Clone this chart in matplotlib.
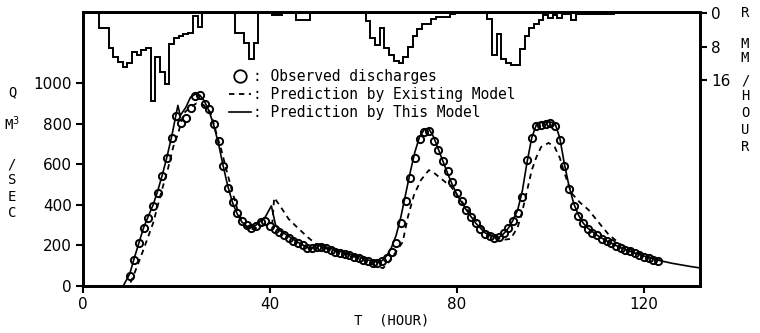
import numpy as np
import matplotlib.pyplot as plt
from matplotlib.lines import Line2D

# observed discharges (hourly), m3/s
obs_t = np.arange(10, 124)
obs_q = [50, 130, 210, 285, 335, 395, 460, 540, 630, 730,
         840, 805, 830, 875, 935, 940, 895, 870, 800, 715,
         590, 485, 415, 360, 320, 300, 285, 295, 315, 320,
         295, 280, 265, 250, 235, 220, 210, 200, 188, 185,
         190, 192, 185, 175, 168, 162, 157, 152, 145, 138,
         130, 122, 115, 113, 122, 140, 168, 212, 310, 420,
         530, 630, 725, 758, 762, 715, 668, 615, 565, 510,
         460, 418, 375, 338, 308, 282, 258, 247, 238, 240,
         262, 288, 322, 358, 440, 620, 730, 790, 795, 800,
         802, 790, 720, 590, 480, 395, 345, 310, 283, 262,
         250, 232, 222, 210, 198, 188, 178, 170, 163, 155,
         145, 138, 130, 122]

# prediction by this model
new_t = [0, 8.6, 10, 11, 12, 13, 14, 15, 16, 17, 18, 19, 20.3, 20.8, 22, 23, 24, 25,
         26, 27, 28, 29, 30, 31, 32, 33, 34, 35, 36, 37, 38, 39, 40.3, 41.2, 42, 44,
         46, 48, 48.8, 49.5, 51, 53, 55, 57, 59, 61, 63, 64, 65, 66, 67, 68, 69, 70,
         71, 72, 73, 74, 75, 76, 77, 78, 79, 80, 82, 84, 86, 88, 89, 90, 91, 92, 93,
         94, 95, 96, 97, 98, 99, 100, 101, 102, 103, 104, 105, 106, 107, 108, 110,
         112, 114, 116, 118, 120, 122, 124, 126, 128, 130, 132]
new_q = [0, 0, 60, 140, 215, 290, 345, 400, 470, 550, 640, 740, 890, 840, 880, 930, 945, 940,
         910, 860, 790, 700, 590, 490, 410, 355, 315, 295, 290, 300, 320, 340, 395, 300, 275, 245,
         215, 190, 180, 200, 200, 185, 170, 158, 145, 128, 118, 125, 150, 190, 250, 340, 450, 560,
         660, 735, 770, 775, 735, 675, 615, 555, 500, 450, 375, 310, 262, 240, 240, 258, 285, 325, 375,
         470, 610, 730, 795, 805, 808, 808, 800, 730, 600, 490, 405, 350, 310, 285, 250,
         222, 200, 180, 163, 148, 135, 122, 112, 104, 96, 89]

# prediction by existing model
old_t = [0, 9.8, 10.7, 12.9, 15, 16.7, 18.2, 19.3, 20.4, 21.5, 23, 24.3, 25.8, 27.3, 28.5,
         29.6, 30.7, 32, 33, 34, 35, 36, 37, 38, 39, 40.5, 40.9, 42, 44, 46, 48.3, 50, 52,
         55, 58, 61, 63, 64.2, 65.5, 67, 68.4, 69.5, 70.8, 72.3, 74, 75.1, 77, 78.8, 80, 82,
         84, 86, 88, 90, 91.5, 93, 94, 95, 96, 97, 98, 99.6, 100.9, 102, 103, 104.5, 106.2,
         108.2, 110, 112.4, 115, 118, 121, 124]
old_q = [0, 0, 44, 177, 310, 458, 580, 685, 755, 850, 882, 900, 892, 855, 755,
         670, 570, 460, 380, 320, 290, 280, 285, 295, 305, 310, 435, 400, 330, 285, 236, 205, 185,
         165, 145, 118, 95, 88, 120, 170, 217, 340, 448, 522, 571, 557, 522, 488, 450, 385,
         325, 275, 240, 228, 232, 290, 370, 470, 570, 635, 685, 705, 685, 632, 557, 458, 414,
         374, 322, 255, 205, 170, 143, 122]

# hourly rainfall intensity, mm/hour (hour k covers k+0.5 .. k+1.5)
rain = [0, 0, 0, 3.6, 3.6, 8.3, 10.4, 11.6, 12.8, 12.0,
        9.2, 10.0, 8.8, 8.4, 21, 10.4, 14, 17, 7.5, 6.0,
        5.6, 5.0, 4.8, 0.8, 3.3, 0, 0, 0, 0, 0,
        0, 0, 4.8, 4.8, 7.2, 11, 7.2, 0, 0, 0,
        0.5, 0.5, 0, 0, 0, 1.7, 1.7, 1.7, 0, 0,
        0, 0, 0, 0, 0, 0, 0, 0, 0, 0,
        2.0, 6.0, 7.6, 3.6, 8.3, 10, 11.5, 12, 10.4, 8,
        5.5, 3.7, 2.5, 2.5, 1.5, 0.9, 0.9, 0.9, 0.3, 0,
        0, 0, 0, 0, 0, 0, 1.5, 10, 5, 11,
        12, 12.4, 12.4, 8.5, 5.5, 3.6, 2.5, 1.7, 0.5, 1.2,
        0.5, 1.2, 0.3, 0.3, 1.7, 0.3, 0.2, 0.2, 0.2, 0.2,
        0.2, 0.2, 0.2, 0, 0, 0, 0, 0, 0, 0,
        0, 0, 0, 0, 0, 0, 0, 0, 0, 0, 0]
rain_edges = np.arange(len(rain) + 1) + 0.5

mono = 'DejaVu Sans Mono'

fig = plt.figure(figsize=(7.6, 3.33), dpi=100)
ax = fig.add_axes([83 / 760, 47 / 333, 617 / 760, 274 / 333])

ax.plot(old_t, old_q, color='black', lw=1.3, dashes=(3, 2.5))
ax.plot(new_t, new_q, color='black', lw=1.2)
ax.plot(obs_t, obs_q, 'o', color='black', mfc='none', ms=5.2, mew=1.4)

ax.set_xlim(0, 132)
ax.set_ylim(0, 1350)
ax.set_xticks([0, 40, 80, 120])
ax.set_yticks([0, 200, 400, 600, 800, 1000])
ax.tick_params(direction='out', length=5, width=1.5, labelsize=11, pad=3)
for s in ax.spines.values():
    s.set_linewidth(2)
ax.set_xlabel('T  (HOUR)', fontsize=10, family=mono, labelpad=1)

# rainfall on inverted right axis
ax2 = ax.twinx()
ax2.stairs(rain, rain_edges, color='black', lw=1.4, baseline=None)
ax2.set_ylim(65.2, -0.25)
ax2.set_yticks([0, 8, 16])
ax2.tick_params(direction='out', length=5, width=1.5, labelsize=11, pad=3)
for s in ax2.spines.values():
    s.set_linewidth(2)

handles = [
    Line2D([], [], ls='none', marker='o', color='black', mfc='none', ms=9, mew=1.3),
    Line2D([], [], color='black', lw=1.3, dashes=(3, 2.5)),
    Line2D([], [], color='black', lw=1.2),
]
labels = [': Observed discharges', ': Prediction by Existing Model', ': Prediction by This Model']
ax.legend(handles, labels, loc='upper left', bbox_to_anchor=(0.225, 0.817), frameon=False,
          prop={'family': mono, 'size': 10.5}, handlelength=1.5, handletextpad=0.15,
          labelspacing=0.18, borderpad=0, numpoints=1)

# stacked axis titles
left_letters = ['Q', 'M$^3$', '/', 'S', 'E', 'C']
left_y = [92, 124, 164, 180, 197, 213]
for ch, y in zip(left_letters, left_y):
    fig.text(12 / 760, 1 - y / 333, ch, family=mono, fontsize=10, ha='center', va='center')

right_letters = ['R', 'M', 'M', '/', 'H', 'O', 'U', 'R']
right_y = [13, 44, 58, 80, 96, 113, 130, 147]
for ch, y in zip(right_letters, right_y):
    fig.text(745 / 760, 1 - y / 333, ch, family=mono, fontsize=10, ha='center', va='center')

fig.savefig('out.png', dpi=100)
